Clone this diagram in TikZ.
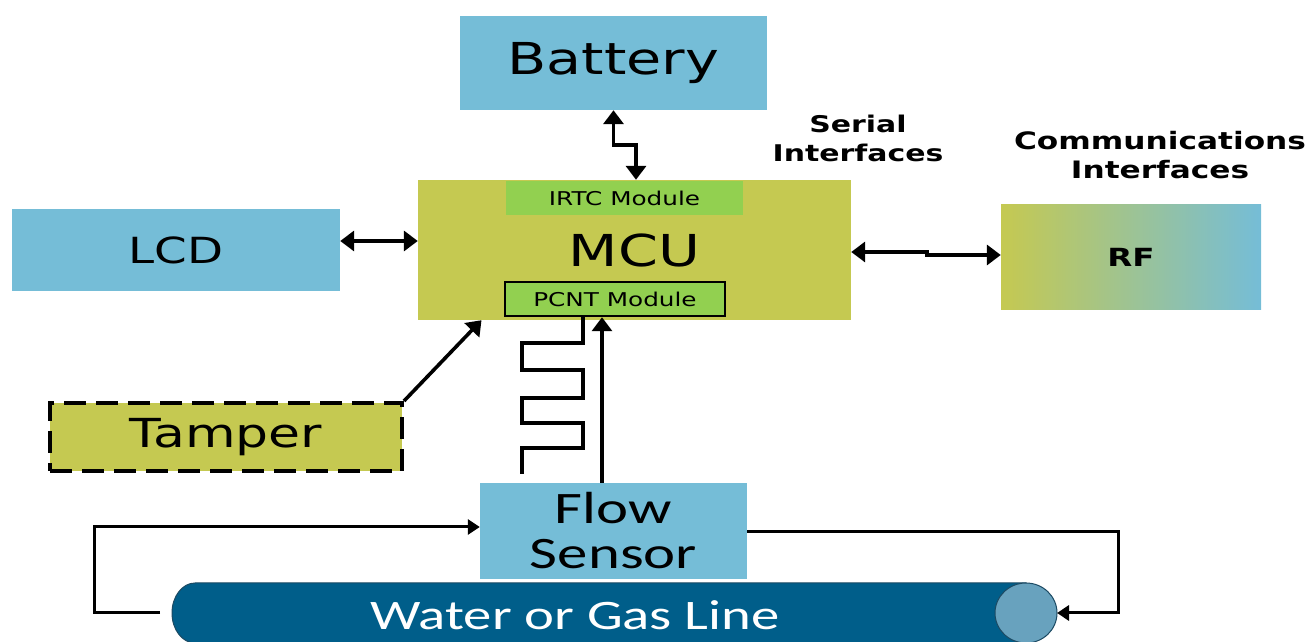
\documentclass[tikz,border=0pt]{standalone}
\usepackage{fontspec}
\usepackage{xcolor}
\usepackage{tikz}
\usetikzlibrary{arrows.meta, positioning}
\newfontfamily\verd[FakeStretch=1.3]{DejaVu Sans}
\newfontfamily\cali[FakeStretch=1.35]{Carlito}
\definecolor{skyblue}{HTML}{75BDD7}
\definecolor{mcuolive}{HTML}{C5C951}
\definecolor{rtcgreen}{HTML}{92D050}
\definecolor{pipeblue}{HTML}{005E8A}
\definecolor{pipecap}{HTML}{68A2BE}
\definecolor{pipeedge}{HTML}{1C4A63}

\begin{document}
\begin{tikzpicture}[x=1pt, y=1pt,
  box/.style={rectangle, inner sep=0pt, fill=skyblue},
  arr/.style={-{Triangle[length=14pt,width=20pt]}, line width=3.6pt},
  dblarr/.style={{Triangle[length=14pt,width=20pt]}-{Triangle[length=14pt,width=20pt]}, line width=3.6pt},
  loop/.style={-{Triangle[length=12pt,width=15pt]}, line width=3pt}]
\useasboundingbox (0,0) rectangle (1314,642);
% blocks
\node[box, minimum width=307pt, minimum height=94pt, font=\verd\fontsize{44}{48}\selectfont] (bat) at (613.5,579) {Battery};
\node[box, fill=mcuolive, minimum width=433pt, minimum height=140pt, font=\verd\fontsize{44}{48}\selectfont] (mcu) at (634.5,392) {MCU};
\node[box, fill=rtcgreen, minimum width=237pt, minimum height=34pt, font=\verd\fontsize{19}{22}\selectfont] (rtc) at (624.5,444) {IRTC Module};
\node[box, fill=rtcgreen, draw=black, line width=2.5pt, minimum width=220pt, minimum height=34pt, font=\verd\fontsize{19}{22}\selectfont] (pcnt) at (615,343) {PCNT Module};
\node[box, minimum width=328pt, minimum height=82pt, font=\verd\fontsize{36}{40}\selectfont] (lcd) at (176,392) {LCD};
\node[box, left color=mcuolive, right color=skyblue, minimum width=260pt, minimum height=105pt, font=\verd\bfseries\fontsize{25}{28}\selectfont] (rf) at (1131,384.5) {RF};
\node[box, fill=mcuolive, draw=black, line width=4pt, dash pattern=on 22pt off 10pt, minimum width=352pt, minimum height=68pt, font=\verd\fontsize{40}{44}\selectfont] (tamp) at (226,205) {Tamper};
\node[box, minimum width=267pt, minimum height=96pt, align=center, font=\cali\fontsize{45}{45}\selectfont] (flow) at (613.5,111) {Flow\\Sensor};
% pipe
\filldraw[fill=pipeblue, draw=pipeedge, line width=1pt] (1026,59) -- (195,59) arc[start angle=90, end angle=270, x radius=23, y radius=30] -- (1026,-1) -- cycle;
\filldraw[fill=pipecap, draw=pipeedge, line width=1pt] (1026,29) ellipse [x radius=31, y radius=30];
\coordinate (pin) at (160,29);
\coordinate (pout) at (1057,29);
\node[font=\cali\fontsize{42}{46}\selectfont, text=white] (wgl) at (575,27) {Water or Gas Line};
% labels
\node[font=\verd\bfseries\fontsize{23}{29}\selectfont, align=center] (ser) at (858,504) {Serial\\Interfaces};
\node[font=\verd\bfseries\fontsize{24}{29}\selectfont, align=center] (com) at (1160,487) {Communications\\Interfaces};
% connectors
\draw[dblarr] (bat.south) -- ++(0,-35) -| ([xshift=1.5pt]mcu.north);
\draw[dblarr] ([yshift=9pt]lcd.east) -- ([yshift=9pt]mcu.west);
\draw[dblarr] ([yshift=-2pt]mcu.east) -- ++(76,0) |- ([yshift=2.5pt]rf.west);
\draw[arr] (tamp.north east) -- ([xshift=-153pt]mcu.south);
\draw[arr] ([xshift=-11.5pt]flow.north) -- ([xshift=-11.5pt]flow.north |- pcnt.south);
\draw[line width=3.6pt] ([xshift=-32pt]pcnt.south) -- ++(0,-26) -- ++(-61,0) -- ++(0,-27) -- ++(61,0)
  -- ++(0,-28) -- ++(-61,0) -- ++(0,-25) -- ++(61,0) -- ++(0,-25) -- ++(-61,0) -- ++(0,-26);
\draw[loop] (pin) -- ++(-66,0) |- ([yshift=4pt]flow.west);
\draw[loop] ([yshift=-1pt]flow.east) -- ++(371,0) |- (pout);
\end{tikzpicture}
\end{document}
